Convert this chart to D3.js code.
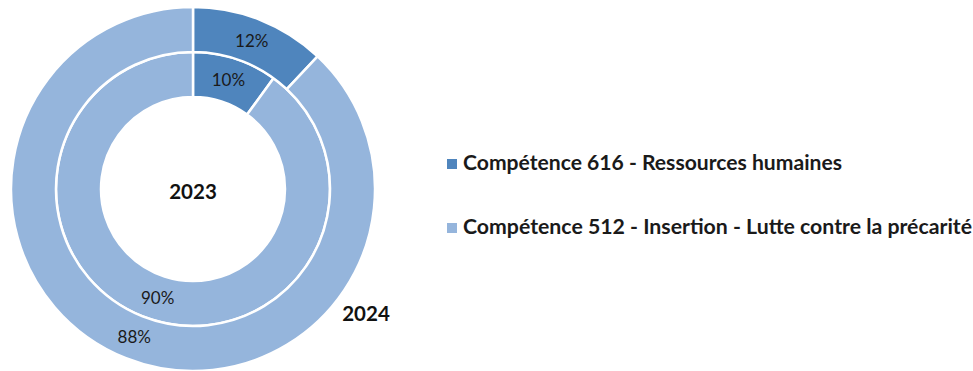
<!DOCTYPE html>
<html><head><meta charset="utf-8">
<script src="https://cdn.jsdelivr.net/npm/d3@7"></script>
<style>body{margin:0;background:#fff}svg{display:block}</style>
</head><body><svg id="c" width="973" height="371"></svg>
<script>
const categories = ["Compétence 616 - Ressources humaines", "Compétence 512 - Insertion - Lutte contre la précarité"];
const years = ["2023", "2024"];
const values2023 = [10, 90];
const values2024 = [12, 88];
const colors = ["#4F85BD", "#95B5DC"];

const svg = d3.select("#c");
const cx = 193, cy = 189;
const font = "Lato, 'Open Sans', sans-serif";
const g = svg.append("g").attr("transform", `translate(${cx},${cy})`);
const pie = d3.pie().sort(null).value(d => d);
const rings = [
  {vals: values2023, r0: 92, r1: 137},
  {vals: values2024, r0: 137, r1: 182}
];
rings.forEach(ring => {
  const arc = d3.arc().innerRadius(ring.r0).outerRadius(ring.r1);
  const arcs = pie(ring.vals);
  g.selectAll(null).data(arcs).enter().append("path")
    .attr("d", arc).attr("fill", (d,i) => colors[i])
    .attr("stroke", "#fff").attr("stroke-width", 2.5);
  g.selectAll(null).data(arcs).enter().append("text")
    .attr("transform", d => `translate(${arc.centroid(d)})`)
    .attr("text-anchor", "middle").attr("dy", "0.36em")
    .attr("font-family", font).attr("font-size", 17).attr("fill", "#1a1a1a")
    .text(d => d.data + "%");
});
g.append("text").attr("x", 0).attr("y", 3).attr("text-anchor", "middle").attr("dy", "0.36em")
  .attr("font-family", font).attr("font-size", 20.5).attr("font-weight", "bold").attr("fill", "#111")
  .text(years[0]);
svg.append("text").attr("x", 366).attr("y", 314).attr("text-anchor", "middle").attr("dy", "0.36em")
  .attr("font-family", font).attr("font-size", 20.5).attr("font-weight", "bold").attr("fill", "#111")
  .text(years[1]);

const legWidths = [379, 509];
const leg = svg.append("g");
categories.forEach((c, i) => {
  const base = 170 + i * 64;
  leg.append("rect").attr("x", 447).attr("y", base - 11).attr("width", 10).attr("height", 10).attr("fill", colors[i]);
  leg.append("text").attr("x", 463).attr("y", base)
    .attr("font-family", font).attr("font-size", 21).attr("font-weight", "bold").attr("fill", "#1a1a1a")
    .attr("textLength", legWidths[i]).attr("lengthAdjust", "spacingAndGlyphs")
    .text(c);
});
</script></body></html>
